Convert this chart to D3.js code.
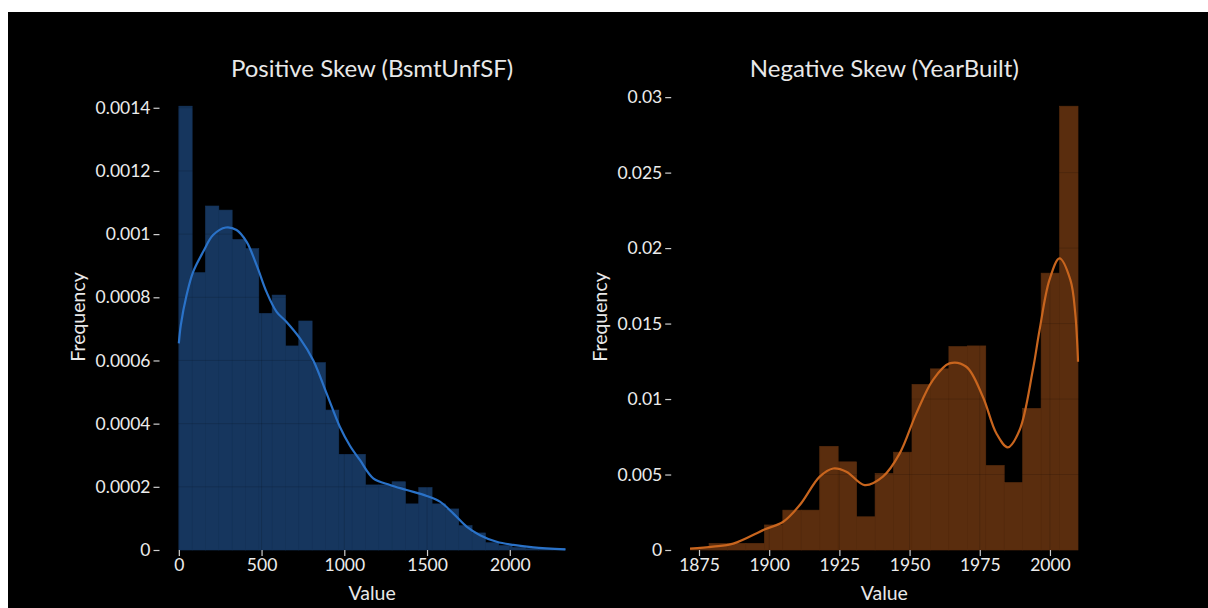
<!DOCTYPE html>
<html><head><meta charset="utf-8">
<script src="https://cdn.jsdelivr.net/npm/d3@7"></script>
<style>
html,body{margin:0;padding:0;background:#fff;}
svg{display:block;}
text{font-family:Lato,"Open Sans",sans-serif;fill:#e8e8e8;}
</style></head>
<body>
<svg id="chart" width="1208" height="608"></svg>
<script>
// ---------- data ----------
const leftTitle = "Positive Skew (BsmtUnfSF)";
const rightTitle = "Negative Skew (YearBuilt)";
const leftRange = [0, 2336];
const leftDensity = [0.001405,0.000878,0.001089,0.001076,0.000983,0.000954,0.000749,0.000807,0.000646,0.000725,
  0.000593,0.000443,0.000303,0.000303,0.000206,0.000206,0.000216,0.000146,0.000198,0.000146,
  0.00013,0.000077,0.000054,0.000023,0.000014,0.000008,0.000004,0.000004,0.000004];
const leftKdeX = [0,12,47,86,147,207,284,349,409,470,530,591,651,732,812,893,973,1034,1094,1175,1276,1377,1498,1578,1658,1739,1820,1921,2021,2142,2336];
const leftKdeY = [0.000654,0.000712,0.000807,0.00088,0.000944,0.000997,0.001021,0.001013,0.000976,0.000902,0.000817,0.000754,0.000722,0.00067,0.000601,0.000496,0.00039,0.00033,0.000285,0.000227,0.000206,0.00019,0.000171,0.000153,0.000116,0.000074,0.000047,0.000026,0.000016,0.0000085,0.000002];
const leftXTicks = [0,500,1000,1500,2000];
const leftYTicks = [0,0.0002,0.0004,0.0006,0.0008,0.001,0.0012,0.0014];

const rightRange = [1872, 2010];
const rightDensity = [0.0001,0.00044,0.00044,0.00044,0.00166,0.00264,0.00264,0.00687,0.00584,0.0022,
  0.00507,0.00648,0.01097,0.0120,0.01348,0.01352,0.0056,0.00447,0.00938,0.01834,0.0294];
const rightKdeX = [1871.8,1880,1887.2,1898.5,1905,1910.9,1918,1922.8,1927.5,1934,1940.5,1946.5,1952.4,1958.3,1964.2,1970.2,1976.1,1980.9,1985,1989.2,1993.9,1996.3,1999.8,2003.4,2007.3,2009,2010];
const rightKdeY = [0.00009,0.00022,0.00042,0.00137,0.00187,0.00298,0.00486,0.0054,0.00519,0.0043,0.00486,0.0064,0.00905,0.01126,0.01236,0.01214,0.01015,0.00773,0.0068,0.00795,0.01192,0.01457,0.01788,0.01932,0.01788,0.0157,0.01247];
const rightXTicks = [1875,1900,1925,1950,1975,2000];
const rightYTicks = [0,0.005,0.01,0.015,0.02,0.025,0.03];

// ---------- layout ----------
const svg = d3.select("#chart");
svg.append("rect").attr("x",8).attr("y",12).attr("width",1200).attr("height",596).attr("fill","#000");

const panels = [
  {title:leftTitle, range:leftRange, dens:leftDensity, kx:leftKdeX, ky:leftKdeY, xt:leftXTicks, yt:leftYTicks,
   x0:159.5, x1:584.7, fill:"#16365e", line:"#2a72c8", labelOff:74.5},
  {title:rightTitle, range:rightRange, dens:rightDensity, kx:rightKdeX, ky:rightKdeY, xt:rightXTicks, yt:rightYTicks,
   x0:671.2, x1:1097.4, fill:"#5a2d0e", line:"#c8651e", labelOff:64}
];
const plotTop = 84, plotBottom = 550;
const fmt = v => String(+v.toFixed(6));

panels.forEach(p => {
  const span = p.range[1]-p.range[0];
  const x = d3.scaleLinear().domain([p.range[0]-0.05*span, p.range[1]+0.05*span]).range([p.x0,p.x1]);
  const ymax = d3.max(p.dens.concat(p.ky))*1.05;
  const y = d3.scaleLinear().domain([0,ymax]).range([plotBottom,plotTop]);
  const n = p.dens.length, w = span/n;
  const g = svg.append("g");
  g.selectAll("rect.bar").data(p.dens).join("rect").attr("class","bar")
    .attr("x",(d,i)=>x(p.range[0]+i*w)).attr("width",(d,i)=>x(p.range[0]+(i+1)*w)-x(p.range[0]+i*w))
    .attr("y",d=>y(d)).attr("height",d=>plotBottom-y(d)).attr("fill",p.fill)
    .attr("stroke",p.fill).attr("stroke-width",0.6);
  g.selectAll("line.gy").data(p.yt.filter(t=>t>0)).join("line").attr("class","gy")
    .attr("x1",p.x0).attr("x2",p.x1).attr("y1",d=>y(d)).attr("y2",d=>y(d))
    .attr("stroke","#000").attr("stroke-opacity",0.14).attr("stroke-width",1);
  g.selectAll("line.gx").data(p.xt).join("line").attr("class","gx")
    .attr("y1",plotTop).attr("y2",plotBottom).attr("x1",d=>x(d)).attr("x2",d=>x(d))
    .attr("stroke","#000").attr("stroke-opacity",0.14).attr("stroke-width",1);
  const line = d3.line().x(d=>x(d[0])).y(d=>y(d[1])).curve(d3.curveCatmullRom.alpha(0.5));
  g.append("path").datum(p.kx.map((v,i)=>[v,p.ky[i]])).attr("d",line)
    .attr("fill","none").attr("stroke",p.line).attr("stroke-width",2.2);
  const ax = g.append("g").attr("transform",`translate(0,${plotBottom})`)
    .call(d3.axisBottom(x).tickValues(p.xt).tickFormat(fmt).tickSize(6).tickPadding(3));
  const ay = g.append("g").attr("transform",`translate(${p.x0},0)`)
    .call(d3.axisLeft(y).tickValues(p.yt).tickFormat(fmt).tickSize(6).tickPadding(3));
  [ax,ay].forEach(a=>{
    a.select(".domain").remove();
    a.selectAll(".tick line").attr("stroke","#cfcfcf").attr("stroke-width",1.2);
    a.selectAll(".tick text").attr("font-size",17.5).style("fill","#ececec").attr("font-family","Lato");
  });
  const cx = (p.x0+p.x1)/2;
  g.append("text").attr("x",cx).attr("y",77).attr("text-anchor","middle").attr("font-size",24).text(p.title);
  g.append("text").attr("x",cx).attr("y",600).attr("text-anchor","middle").attr("font-size",19.5).text("Value");
  g.append("text").attr("transform",`translate(${p.x0-p.labelOff},${(plotTop+plotBottom)/2}) rotate(-90)`)
    .attr("text-anchor","middle").attr("font-size",19.5).text("Frequency");
});
</script>
</body></html>
